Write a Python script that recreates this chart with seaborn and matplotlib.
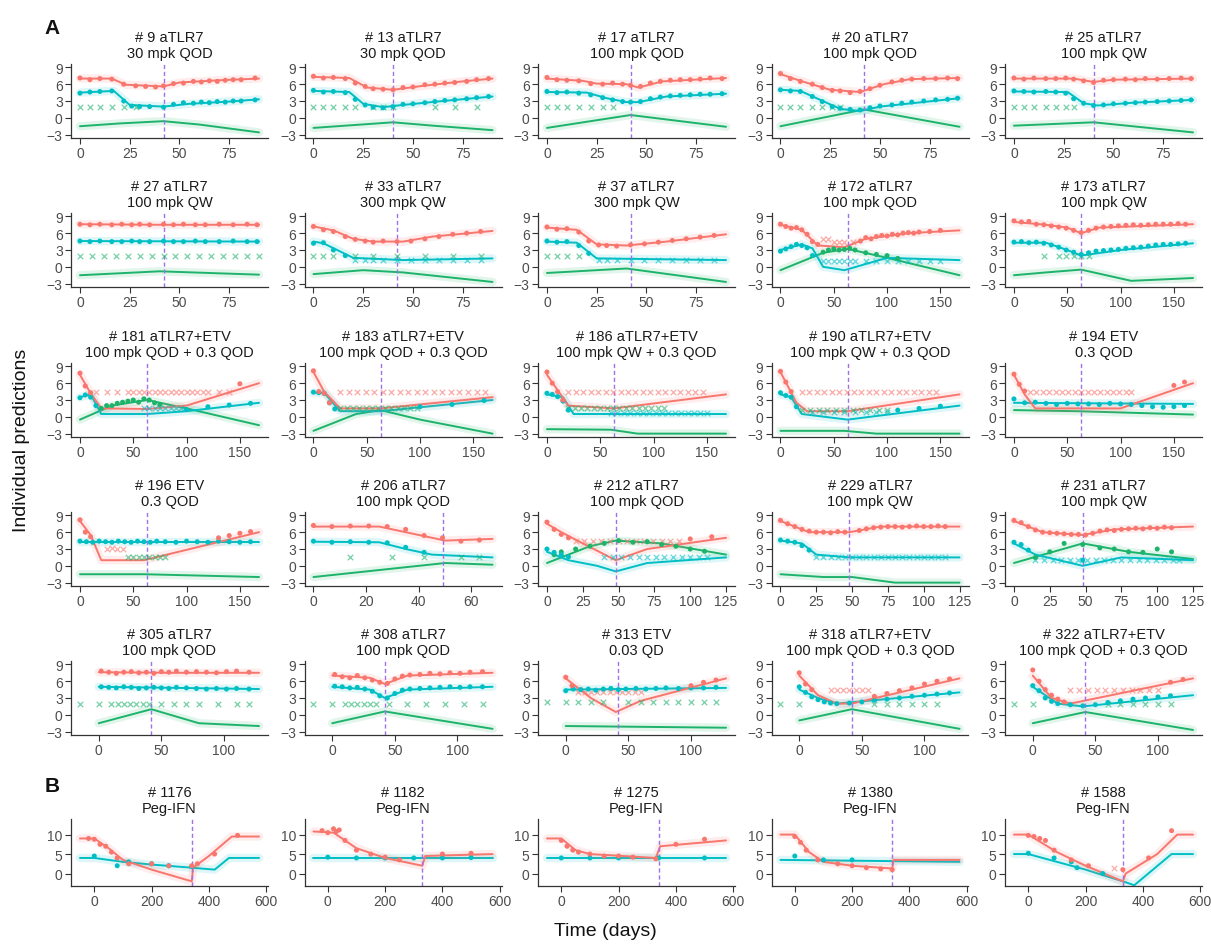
import matplotlib
matplotlib.use("Agg")
import matplotlib.pyplot as plt
import seaborn as sns
import pandas as pd
from matplotlib.ticker import MultipleLocator, FixedLocator

sns.set_theme(style="ticks")
plt.rcParams["font.family"] = ["Liberation Sans", "DejaVu Sans"]

RED = "#F8766D"
CYAN = "#00BFC4"
GREEN = "#1DB36B"
STOP = "#A070E8"

# ---------------- panel identities -----------------
subjects_a = ["9", "13", "17", "20", "25",
              "27", "33", "37", "172", "173",
              "181", "183", "186", "190", "194",
              "196", "206", "212", "229", "231",
              "305", "308", "313", "318", "322"]
regimen_a = ["aTLR7\n30 mpk QOD", "aTLR7\n30 mpk QOD", "aTLR7\n100 mpk QOD", "aTLR7\n100 mpk QOD", "aTLR7\n100 mpk QW",
             "aTLR7\n100 mpk QW", "aTLR7\n300 mpk QW", "aTLR7\n300 mpk QW", "aTLR7\n100 mpk QOD", "aTLR7\n100 mpk QW",
             "aTLR7+ETV\n100 mpk QOD + 0.3 QOD", "aTLR7+ETV\n100 mpk QOD + 0.3 QOD",
             "aTLR7+ETV\n100 mpk QW + 0.3 QOD", "aTLR7+ETV\n100 mpk QW + 0.3 QOD", "ETV\n0.3 QOD",
             "ETV\n0.3 QOD", "aTLR7\n100 mpk QOD", "aTLR7\n100 mpk QOD", "aTLR7\n100 mpk QW", "aTLR7\n100 mpk QW",
             "aTLR7\n100 mpk QOD", "aTLR7\n100 mpk QOD", "ETV\n0.03 QD",
             "aTLR7+ETV\n100 mpk QOD + 0.3 QOD", "aTLR7+ETV\n100 mpk QOD + 0.3 QOD"]
subjects_b = ["1176", "1182", "1275", "1380", "1588"]
regimen_b = ["Peg-IFN"] * 5

# end of treatment (days)
stop_day = {"9": 42, "13": 40, "17": 42, "20": 42, "25": 40, "27": 42, "33": 42, "37": 42,
            "172": 63, "173": 63, "181": 63, "183": 63, "186": 63, "190": 63, "194": 63,
            "196": 63, "206": 49, "212": 48, "229": 48, "231": 48,
            "305": 42, "308": 42, "313": 42, "318": 42, "322": 42,
            "1176": 340, "1182": 330, "1275": 340, "1380": 340, "1588": 330}

# x tick spacing per panel
tick_step = {s: 25 for s in ["9", "13", "17", "20", "25", "27", "33", "37", "212", "229", "231"]}
tick_step.update({s: 50 for s in ["172", "173", "181", "183", "186", "190", "194", "196",
                                  "305", "308", "313", "318", "322"]})
tick_step.update({"206": 20})
tick_step.update({s: 200 for s in subjects_b})

# ---------------- red series (viral DNA) -----------------
dna_fit = {
    "9": [(0, 7.0), (16, 7.0), (23, 5.9), (42, 5.6), (50, 6.3), (70, 6.7), (90, 7.0)],
    "13": [(0, 7.3), (18, 7.1), (27, 5.4), (40, 5.0), (55, 5.7), (75, 6.5), (90, 7.0)],
    "17": [(0, 7.0), (18, 6.6), (25, 6.1), (40, 6.0), (46, 5.4), (58, 6.5), (90, 7.1)],
    "20": [(0, 7.8), (10, 6.6), (25, 5.0), (40, 4.6), (52, 6.0), (65, 6.9), (90, 7.1)],
    "25": [(0, 7.0), (30, 7.0), (40, 6.4), (50, 6.8), (90, 7.0)],
    "27": [(0, 7.6), (40, 7.5), (90, 7.5)],
    "33": [(0, 7.2), (10, 6.5), (20, 5.0), (30, 4.5), (45, 4.5), (60, 5.4), (90, 6.4)],
    "37": [(0, 7.0), (15, 6.6), (25, 4.0), (40, 3.8), (60, 4.5), (90, 5.8)],
    "172": [(0, 7.5), (20, 6.6), (35, 3.8), (60, 3.5), (80, 5.0), (120, 6.0), (168, 6.5)],
    "173": [(0, 8.0), (30, 7.5), (50, 7.0), (63, 6.0), (80, 7.0), (168, 7.6)],
    "181": [(0, 7.5), (10, 4.2), (20, 1.5), (63, 1.4), (100, 2.0), (168, 6.0)],
    "183": [(0, 8.0), (10, 4.5), (25, 1.5), (63, 1.5), (168, 3.5)],
    "186": [(0, 7.5), (20, 2.0), (63, 1.5), (168, 4.0)],
    "190": [(0, 8.0), (15, 2.5), (25, 1.0), (63, 1.0), (168, 4.0)],
    "194": [(0, 7.5), (10, 4.0), (20, 1.5), (100, 1.5), (168, 6.0)],
    "196": [(0, 8.0), (10, 5.5), (20, 1.0), (60, 1.0), (168, 6.0)],
    "206": [(0, 7.0), (25, 7.0), (35, 6.0), (45, 5.0), (50, 4.5), (68, 4.8)],
    "212": [(0, 7.5), (10, 6.0), (25, 4.0), (48, 1.0), (70, 3.0), (125, 5.0)],
    "229": [(0, 8.0), (20, 6.0), (48, 6.0), (70, 7.0), (125, 7.0)],
    "231": [(0, 8.0), (20, 6.0), (48, 5.5), (70, 6.5), (125, 7.0)],
    "305": [(0, 7.6), (60, 7.5), (128, 7.5)],
    "308": [(0, 7.0), (30, 6.6), (42, 5.5), (60, 7.0), (128, 7.5)],
    "313": [(0, 6.5), (20, 3.0), (40, 0.5), (60, 2.5), (128, 6.5)],
    "318": [(0, 7.0), (15, 3.5), (30, 2.0), (42, 2.0), (128, 6.5)],
    "322": [(0, 7.0), (15, 3.0), (30, 2.0), (128, 6.5)],
    "1176": [(-50, 9.0), (0, 9.0), (50, 6.5), (100, 3.5), (200, 1.0), (340, -2.0), (345, 1.5),
             (400, 4.5), (480, 9.5), (575, 9.5)],
    "1182": [(-50, 10.8), (20, 10.5), (50, 9.0), (100, 6.5), (200, 4.0), (330, 2.0), (340, 4.5), (575, 5.0)],
    "1275": [(-50, 9.0), (0, 9.0), (50, 6.0), (100, 5.0), (330, 4.0), (345, 7.0), (575, 8.5)],
    "1380": [(-50, 10.0), (0, 10.0), (50, 5.5), (100, 3.0), (200, 2.0), (340, 1.3), (345, 3.5), (575, 3.5)],
    "1588": [(-50, 10.0), (0, 10.0), (100, 5.5), (200, 2.0), (330, -2.0), (340, 0.0), (450, 5.0),
             (520, 10.0), (575, 10.0)],
}
dna_obs = {
    "9": [(0, 7.1), (5, 6.8), (10, 7.0), (16, 6.9), (22, 6.0), (28, 5.7), (33, 5.6), (38, 5.5), (42, 5.7),
          (47, 6.1), (52, 6.2), (57, 6.5), (61, 6.4), (65, 6.6), (69, 6.5), (73, 6.7), (77, 6.8), (81, 6.8), (88, 7.1)],
    "13": [(0, 7.4), (5, 7.1), (10, 7.2), (16, 7.0), (21, 6.2), (26, 5.6), (30, 5.2), (35, 5.1), (40, 5.0),
           (45, 5.4), (50, 5.5), (56, 5.9), (61, 6.0), (66, 6.2), (71, 6.3), (77, 6.5), (82, 6.8), (88, 7.0)],
    "17": [(0, 7.2), (5, 6.8), (10, 6.7), (16, 6.6), (22, 6.1), (28, 6.0), (33, 6.2), (38, 6.0), (42, 5.8),
           (47, 5.6), (52, 6.2), (57, 6.5), (62, 6.7), (67, 6.8), (72, 6.8), (77, 6.9), (82, 7.1), (88, 7.0)],
    "20": [(0, 7.9), (5, 7.0), (10, 6.5), (16, 6.0), (21, 5.4), (26, 4.9), (30, 4.8), (35, 4.5), (40, 4.7),
           (45, 5.2), (50, 5.8), (56, 6.4), (61, 6.7), (66, 6.9), (72, 7.0), (78, 7.0), (84, 7.1), (89, 7.0)],
    "25": [(0, 7.1), (5, 6.9), (10, 7.1), (16, 7.0), (21, 7.0), (26, 7.1), (30, 6.9), (35, 6.6), (40, 6.3),
           (45, 6.7), (50, 6.8), (56, 6.9), (61, 6.8), (66, 7.0), (72, 6.9), (78, 7.0), (84, 7.1), (89, 7.0)],
    "27": [(0, 7.6), (5, 7.5), (10, 7.6), (16, 7.5), (21, 7.6), (26, 7.5), (30, 7.6), (35, 7.5), (42, 7.6),
           (47, 7.5), (52, 7.6), (58, 7.5), (63, 7.5), (70, 7.6), (77, 7.5), (84, 7.6), (89, 7.5)],
    "33": [(0, 7.2), (5, 6.6), (10, 6.3), (16, 5.4), (21, 4.9), (26, 4.6), (30, 4.4), (35, 4.6), (42, 4.5),
           (49, 4.6), (56, 5.0), (63, 5.4), (70, 5.8), (77, 6.0), (84, 6.3)],
    "37": [(0, 7.1), (5, 6.7), (10, 6.8), (16, 6.2), (21, 4.6), (26, 3.9), (30, 3.8), (35, 3.7), (42, 3.9),
           (49, 4.1), (56, 4.4), (63, 4.7), (70, 5.0), (77, 5.3), (84, 5.6)],
    "172": [(0, 7.6), (5, 7.2), (10, 6.9), (15, 7.0), (20, 6.6), (25, 5.8), (30, 4.5), (35, 4.0), (75, 4.6),
            (80, 5.2), (85, 5.0), (90, 5.4), (95, 5.6), (100, 5.5), (105, 5.8), (110, 5.7), (115, 6.0),
            (120, 6.1), (125, 6.0), (130, 6.2), (140, 6.3), (150, 6.5)],
    "173": [(0, 8.2), (7, 8.0), (14, 8.1), (21, 7.6), (28, 7.5), (35, 7.3), (42, 7.1), (49, 6.9), (56, 6.5),
            (63, 6.1), (70, 6.5), (77, 6.9), (84, 7.1), (91, 7.2), (98, 7.3), (105, 7.4), (112, 7.5), (119, 7.4),
            (126, 7.5), (133, 7.6), (140, 7.6), (147, 7.6), (154, 7.7), (161, 7.6)],
    "181": [(0, 7.8), (5, 5.5), (10, 4.3), (150, 5.9)],
    "183": [(0, 8.2), (5, 4.5), (10, 4.2), (15, 2.5)],
    "186": [(0, 8.0), (5, 6.0), (10, 4.5), (15, 3.0)],
    "190": [(0, 8.1), (5, 6.2), (10, 4.5)],
    "194": [(0, 7.6), (5, 5.8), (10, 4.6), (150, 5.6), (160, 6.2)],
    "196": [(0, 8.2), (5, 6.0), (10, 5.2), (130, 5.0), (140, 5.4), (150, 5.8), (160, 6.1)],
    "206": [(0, 7.2), (7, 7.0), (14, 7.1), (21, 7.1), (28, 7.0), (35, 6.5), (42, 5.4), (49, 5.0), (56, 4.4), (63, 4.6)],
    "212": [(0, 7.8), (5, 6.5), (10, 5.6), (15, 5.0), (100, 4.8), (115, 5.2)],
    "229": [(0, 8.1), (5, 7.5), (10, 7.0), (15, 6.5), (20, 6.2), (25, 6.0), (30, 6.0), (35, 5.9), (40, 6.1),
            (45, 6.0), (55, 6.3), (60, 6.6), (65, 6.8), (70, 6.9), (75, 7.0), (80, 7.0), (85, 6.9), (90, 7.0),
            (95, 7.1), (100, 7.0), (105, 7.0), (110, 7.1), (115, 7.0)],
    "231": [(0, 8.1), (5, 7.7), (10, 7.0), (15, 6.4), (20, 6.0), (25, 5.9), (30, 5.8), (35, 5.7), (40, 5.6),
            (45, 5.6), (50, 5.5), (55, 5.8), (60, 6.2), (65, 6.4), (70, 6.3), (75, 6.5), (80, 6.6), (85, 6.7),
            (90, 6.6), (95, 6.8), (100, 6.7), (105, 6.9), (110, 6.8)],
    "305": [(2, 7.8), (8, 7.6), (14, 7.4), (20, 7.6), (26, 7.7), (32, 7.5), (38, 7.6), (44, 7.4), (50, 7.7),
            (56, 7.6), (62, 7.8), (70, 7.6), (78, 7.7), (86, 7.6), (94, 7.5), (102, 7.7), (110, 7.8), (120, 7.6)],
    "308": [(2, 7.2), (8, 6.8), (14, 6.6), (20, 7.0), (26, 6.6), (32, 6.2), (38, 5.8), (44, 5.6), (50, 6.4),
            (56, 6.9), (62, 7.1), (70, 7.2), (78, 7.4), (86, 7.3), (94, 7.5), (102, 7.4), (110, 7.6), (120, 7.7)],
    "313": [(0, 6.7), (5, 5.2), (100, 5.2), (110, 5.8), (120, 6.2)],
    "318": [(0, 7.5), (5, 5.5), (10, 4.5), (60, 3.3), (70, 3.8), (80, 4.3), (90, 4.8), (100, 5.5), (110, 6.0), (120, 6.4)],
    "322": [(0, 8.0), (5, 6.0), (10, 4.5), (15, 3.5), (20, 2.8), (25, 2.3), (110, 5.8), (120, 6.3)],
    "1176": [(-20, 9.0), (0, 8.8), (20, 7.5), (40, 7.0), (60, 5.5), (80, 4.0), (120, 2.5), (200, 2.5),
             (260, 2.0), (340, 2.0), (360, 2.5), (420, 5.0), (500, 9.8)],
    "1182": [(-20, 11.0), (0, 10.5), (20, 11.5), (30, 10.8), (40, 11.2), (60, 8.5), (100, 6.0), (150, 5.0),
             (200, 4.2), (250, 3.5), (400, 5.0), (500, 5.2)],
    "1275": [(0, 8.5), (20, 7.0), (40, 6.0), (60, 5.5), (100, 5.0), (150, 4.5), (200, 4.5), (250, 4.2),
             (330, 3.8), (400, 7.5), (500, 8.8)],
    "1380": [(0, 9.5), (20, 8.0), (40, 6.0), (80, 3.5), (150, 2.5), (200, 2.0), (250, 1.5), (300, 1.2), (340, 1.0)],
    "1588": [(0, 9.8), (20, 9.5), (40, 9.0), (60, 8.5), (90, 6.0), (150, 3.5), (210, 2.0), (330, 1.0),
             (420, 4.0), (500, 11.0)],
}
dna_blq = {
    "172": [(40, 5.0), (45, 5.0), (50, 4.5), (55, 4.5), (60, 4.5), (68, 4.5)],
    "181": [(t, 4.5) for t in (15, 25, 35, 45, 50, 55, 60, 65, 70, 75, 80, 85, 90, 95, 100, 105, 110, 115, 120, 130, 140)],
    "183": [(t, 4.5) for t in (25, 33, 41, 49, 57, 65, 73, 81, 89, 97, 105, 113, 121, 129, 137, 145, 153, 161)],
    "186": [(t, 4.5) for t in (20, 27, 34, 41, 48, 55, 62, 69, 76, 83, 90, 97, 104, 111, 118, 125, 132, 139, 146)],
    "190": [(t, 4.5) for t in (20, 27, 34, 41, 48, 55, 62, 69, 76, 83, 90, 97, 104, 111, 118, 125, 132, 139, 146)],
    "194": [(t, 4.5) for t in (15, 21, 27, 33, 39, 45, 51, 57, 63, 69, 75, 81, 87, 93, 99, 105, 110)],
    "196": [(25, 3.0), (30, 3.2), (35, 3.0), (40, 3.0)],
    "212": [(t, 4.5) for t in (20, 26, 32, 38, 44, 50, 56, 62, 68, 74, 80, 86, 92)],
    "313": [(t, 4.0) for t in (10, 15, 20, 25, 30, 35, 40, 45, 50, 55, 60)],
    "318": [(t, 4.5) for t in (25, 30, 35, 40, 45, 50, 55)],
    "322": [(t, 4.5) for t in (30, 37, 44, 51, 58, 65, 72, 79, 86, 93, 100)],
    "1588": [(300, 1.5)],
}

# ---------------- cyan series (surface antigen) -----------------
sag_fit = {
    "9": [(0, 4.5), (17, 4.8), (25, 2.3), (42, 2.0), (55, 2.5), (75, 2.9), (90, 3.3)],
    "13": [(0, 4.8), (18, 4.6), (25, 2.5), (35, 1.9), (45, 2.3), (65, 3.0), (90, 3.8)],
    "17": [(0, 4.6), (20, 4.5), (30, 3.5), (40, 2.8), (46, 2.8), (60, 3.8), (90, 4.3)],
    "20": [(0, 5.0), (10, 4.8), (20, 3.2), (30, 1.6), (40, 1.2), (50, 2.0), (90, 3.5)],
    "25": [(0, 4.7), (27, 4.6), (35, 2.6), (42, 2.2), (60, 2.7), (90, 3.2)],
    "27": [(0, 4.6), (90, 4.5)],
    "33": [(0, 4.5), (5, 4.2), (20, 1.6), (45, 1.2), (90, 1.5)],
    "37": [(0, 4.5), (15, 4.3), (25, 1.5), (90, 1.2)],
    "172": [(0, 3.0), (20, 4.0), (30, 3.3), (40, 0.0), (60, -0.6), (100, 1.6), (168, 1.2)],
    "173": [(0, 4.3), (30, 4.3), (50, 3.0), (63, 2.0), (100, 3.0), (168, 4.2)],
    "181": [(0, 3.5), (10, 4.0), (20, 0.5), (63, 0.5), (100, 1.0), (168, 2.5)],
    "183": [(0, 4.3), (10, 4.3), (25, 1.0), (63, 1.0), (168, 3.0)],
    "186": [(0, 4.0), (15, 3.5), (25, 0.5), (168, 0.5)],
    "190": [(0, 4.0), (10, 3.5), (20, 0.5), (63, -0.5), (168, 2.0)],
    "194": [(0, 2.5), (168, 2.3)],
    "196": [(0, 4.3), (168, 4.3)],
    "206": [(0, 4.3), (25, 4.2), (35, 3.0), (45, 2.0), (68, 1.5)],
    "212": [(0, 2.5), (15, 1.0), (35, 0.0), (48, -1.0), (70, 0.5), (125, 1.5)],
    "229": [(0, 4.5), (15, 4.0), (25, 2.0), (48, 1.5), (125, 1.5)],
    "231": [(0, 4.0), (15, 2.0), (48, 0.0), (75, 1.5), (125, 1.0)],
    "305": [(0, 5.0), (128, 4.6)],
    "308": [(0, 5.0), (30, 4.5), (42, 3.0), (60, 4.5), (128, 5.0)],
    "313": [(0, 4.5), (128, 4.8)],
    "318": [(0, 4.5), (15, 3.0), (30, 2.0), (128, 4.0)],
    "322": [(0, 5.0), (20, 2.0), (40, 1.5), (128, 3.5)],
    "1176": [(-50, 4.0), (0, 4.0), (100, 3.0), (200, 2.3), (340, 1.5), (420, 1.0), (470, 4.0), (575, 4.0)],
    "1182": [(-50, 4.0), (575, 4.0)],
    "1275": [(-50, 4.0), (575, 4.0)],
    "1380": [(-50, 3.5), (575, 3.0)],
    "1588": [(-50, 5.0), (0, 5.0), (200, 1.0), (330, -2.0), (370, -3.0), (500, 5.0), (575, 5.0)],
}
sag_obs = {
    "9": [(0, 4.4), (5, 4.6), (10, 4.7), (16, 4.8), (22, 3.0), (26, 2.1), (30, 2.0), (35, 2.0), (42, 1.9),
          (47, 2.4), (52, 2.7), (57, 2.6), (61, 2.8), (65, 2.7), (69, 2.9), (73, 2.8), (77, 3.0), (81, 3.0), (88, 3.2)],
    "13": [(0, 4.9), (5, 4.6), (10, 4.7), (16, 4.5), (21, 3.3), (26, 2.3), (30, 1.9), (35, 1.8), (40, 2.0),
           (45, 2.4), (50, 2.5), (56, 2.7), (61, 2.9), (66, 3.1), (71, 3.2), (77, 3.4), (82, 3.6), (88, 3.8)],
    "17": [(0, 4.7), (5, 4.5), (10, 4.6), (16, 4.4), (22, 4.1), (28, 3.6), (33, 3.2), (38, 2.9), (42, 2.8),
           (47, 2.9), (52, 3.4), (57, 3.7), (62, 3.9), (67, 4.0), (72, 4.1), (77, 4.2), (82, 4.2), (88, 4.3)],
    "20": [(0, 5.0), (5, 4.8), (10, 4.7), (16, 3.8), (21, 2.9), (26, 2.0), (30, 1.7), (35, 1.5), (40, 1.4),
           (45, 1.8), (50, 2.1), (56, 2.3), (61, 2.6), (66, 2.8), (72, 3.0), (78, 3.2), (84, 3.3), (89, 3.5)],
    "25": [(0, 4.8), (5, 4.7), (10, 4.6), (16, 4.7), (21, 4.6), (26, 4.4), (30, 3.4), (35, 2.6), (40, 2.2),
           (45, 2.3), (50, 2.5), (56, 2.6), (61, 2.7), (66, 2.8), (72, 2.9), (78, 3.0), (84, 3.1), (89, 3.2)],
    "27": [(0, 4.6), (5, 4.5), (10, 4.6), (16, 4.5), (21, 4.5), (26, 4.6), (30, 4.5), (35, 4.5), (42, 4.6),
           (47, 4.5), (52, 4.5), (58, 4.6), (63, 4.5), (70, 4.5), (77, 4.6), (84, 4.5), (89, 4.5)],
    "33": [(0, 4.2), (5, 4.3), (10, 3.0), (16, 2.0)],
    "37": [(0, 4.6), (5, 4.4), (10, 4.5), (16, 3.8), (21, 2.4)],
    "172": [(0, 2.8), (5, 3.2), (10, 3.6), (15, 4.0), (20, 3.8), (25, 3.4), (30, 2.0)],
    "173": [(0, 4.4), (7, 4.5), (14, 4.3), (21, 4.4), (28, 4.2), (35, 3.9), (42, 3.5), (49, 3.0), (56, 2.6),
            (63, 2.2), (70, 2.5), (77, 2.8), (84, 2.9), (91, 3.0), (98, 3.1), (105, 3.3), (112, 3.4), (119, 3.5),
            (126, 3.7), (133, 3.9), (140, 4.0), (147, 4.0), (154, 4.1), (161, 4.2)],
    "181": [(0, 3.4), (5, 3.9), (10, 3.5), (15, 2.0), (100, 1.3), (120, 1.8), (140, 2.1), (160, 2.4)],
    "183": [(0, 4.4), (5, 4.3), (10, 4.2), (15, 2.5), (20, 1.4), (100, 1.8), (130, 2.2), (160, 2.9)],
    "186": [(0, 4.2), (5, 4.0), (10, 3.6), (15, 2.8), (20, 1.2)],
    "190": [(0, 4.3), (5, 3.8), (10, 3.5), (15, 1.8), (110, 1.2), (130, 1.5), (150, 1.9)],
    "194": [(0, 3.2), (10, 2.5), (20, 2.6), (30, 2.4), (40, 2.2), (50, 2.4), (60, 2.3), (70, 2.3), (80, 2.2),
            (90, 2.4), (100, 2.3), (110, 2.2), (120, 2.0), (130, 1.8), (140, 1.7), (150, 1.8), (160, 2.0)],
    "196": [(0, 4.4), (6, 4.3), (12, 4.2), (18, 4.4), (24, 4.3), (30, 4.2), (36, 4.4), (42, 4.3), (48, 4.2),
            (54, 4.4), (60, 4.3), (66, 4.2), (72, 4.4), (80, 4.3), (90, 4.2), (100, 4.4), (110, 4.3),
            (120, 4.2), (130, 4.4), (140, 4.3), (150, 4.2), (160, 4.3)],
    "206": [(0, 4.4), (7, 4.2), (14, 4.3), (21, 4.2), (28, 4.1), (35, 3.3), (42, 2.4)],
    "212": [(0, 3.0), (5, 2.4), (10, 2.0), (15, 1.6)],
    "229": [(0, 4.6), (5, 4.4), (10, 4.2), (15, 3.6), (20, 2.8)],
    "231": [(0, 4.2), (5, 3.8), (10, 2.8), (48, 1.0)],
    "305": [(2, 5.0), (8, 4.9), (14, 4.8), (20, 5.0), (26, 4.9), (32, 4.7), (38, 4.8), (44, 4.9), (50, 4.8),
            (56, 4.7), (62, 4.9), (70, 4.8), (78, 4.7), (86, 4.6), (94, 4.7), (102, 4.6), (110, 4.7), (120, 4.6)],
    "308": [(2, 5.1), (8, 5.0), (14, 4.8), (20, 4.9), (26, 4.6), (32, 4.2), (38, 3.4), (44, 3.0), (50, 3.8),
            (56, 4.4), (62, 4.6), (70, 4.7), (78, 4.8), (86, 4.9), (94, 5.0), (102, 4.9), (110, 5.0), (120, 5.0)],
    "313": [(0, 4.3), (6, 4.6), (12, 4.5), (18, 4.6), (24, 4.4), (30, 4.6), (36, 4.7), (42, 4.5), (48, 4.6),
            (56, 4.7), (64, 4.6), (72, 4.7), (80, 4.8), (90, 4.7), (100, 4.8), (110, 4.8), (120, 4.9)],
    "318": [(0, 5.0), (5, 4.0), (10, 3.2), (15, 2.7), (20, 2.3), (25, 2.1), (30, 2.0), (40, 2.1), (50, 2.3),
            (60, 2.6), (70, 2.8), (80, 3.0), (90, 3.3), (100, 3.5), (110, 3.7), (120, 3.9)],
    "322": [(0, 5.2), (5, 4.3), (10, 3.0), (15, 2.4), (20, 2.0), (30, 1.8), (40, 1.6), (50, 1.8), (60, 2.2),
            (70, 2.5), (80, 2.8), (90, 3.0), (100, 3.2), (110, 3.4)],
    "1176": [(0, 4.5), (80, 2.0), (120, 3.0), (200, 2.5), (260, 2.0), (340, 1.8)],
    "1182": [(0, 4.2), (100, 4.0), (200, 4.0), (300, 4.0), (400, 4.0), (500, 4.1)],
    "1275": [(0, 4.0), (100, 4.0), (200, 4.0), (340, 4.0), (500, 4.0)],
    "1380": [(0, 4.5), (100, 3.5), (200, 3.5)],
    "1588": [(0, 5.2), (90, 4.0), (150, 3.0), (170, 1.5), (260, 0.0)],
}
sag_blq = {
    "33": [(t, 1.3) for t in (21, 26, 30, 35, 42, 49, 56, 63, 70, 77, 84)],
    "37": [(t, 1.2) for t in (26, 30, 35, 42, 49, 56, 63, 70, 77, 84)],
    "172": [(t, 1.0) for t in (40, 45, 50, 55, 60, 65, 70, 80, 90, 100, 110, 120, 130, 140, 150)],
    "181": [(t, 1.5) for t in (60, 65, 70, 75, 80, 85, 90, 95)],
    "186": [(t, 0.7) for t in (60, 66, 72, 78, 84, 90, 96, 102, 108, 114, 120, 126, 132, 138, 144, 150)],
    "190": [(t, 0.8) for t in (30, 40, 50, 60, 70, 80, 90, 100)],
    "212": [(t, 1.5) for t in (40, 46, 52, 58, 64, 70, 76, 82, 88, 94, 100, 106, 112)],
    "229": [(t, 1.5) for t in (25, 30, 35, 40, 45, 50, 55, 60, 65, 70, 75, 80, 85, 90, 95, 100, 105, 110, 115)],
    "231": [(t, 1.0) for t in (15, 21, 27, 33, 39, 45, 51, 57, 63, 69, 75, 81, 87, 93, 99, 105, 111, 115)],
}

# ---------------- green series -----------------
alt_fit = {
    "9": [(0, -1.5), (20, -1.0), (42, -0.6), (60, -1.2), (90, -2.6)],
    "13": [(0, -1.8), (40, -0.8), (60, -1.4), (90, -2.2)],
    "17": [(0, -1.8), (42, 0.5), (90, -1.6)],
    "20": [(0, -1.5), (42, 1.5), (90, -1.6)],
    "25": [(0, -1.4), (40, -0.8), (90, -2.6)],
    "27": [(0, -1.5), (40, -0.8), (90, -1.4)],
    "33": [(0, -1.3), (25, -0.6), (45, -1.0), (90, -2.7)],
    "37": [(0, -1.1), (40, -0.3), (90, -2.7)],
    "172": [(0, -0.6), (40, 2.5), (63, 3.2), (100, 1.6), (168, -1.5)],
    "173": [(0, -1.5), (30, -1.0), (63, -0.5), (110, -2.5), (168, -2.0)],
    "181": [(0, -0.5), (30, 2.0), (63, 3.0), (100, 1.5), (168, -1.5)],
    "183": [(0, -2.5), (40, 0.5), (63, 1.2), (100, -0.5), (168, -3.0)],
    "186": [(0, -2.2), (60, -2.3), (85, -3.0), (168, -3.0)],
    "190": [(0, -2.5), (60, -2.5), (90, -3.0), (168, -3.0)],
    "194": [(0, 1.2), (60, 1.0), (168, 0.4)],
    "196": [(0, -1.5), (60, -1.5), (168, -2.0)],
    "206": [(0, -2.0), (50, 0.5), (68, 0.2)],
    "212": [(0, 0.5), (30, 3.5), (48, 4.5), (80, 4.0), (125, 2.0)],
    "229": [(0, -1.5), (30, -2.0), (50, -2.0), (80, -3.0), (125, -3.0)],
    "231": [(0, 0.5), (48, 4.0), (80, 2.5), (125, 1.2)],
    "305": [(0, -1.5), (42, 1.0), (80, -1.5), (128, -2.0)],
    "308": [(0, -1.5), (42, 0.6), (128, -2.5)],
    "313": [(0, -2.0), (128, -2.3)],
    "318": [(0, -1.0), (42, 1.0), (128, -2.5)],
    "322": [(0, -1.5), (42, 0.5), (128, -2.7)],
}
alt_obs = {
    "172": [(40, 2.6), (45, 3.0), (50, 3.2), (55, 3.0), (60, 3.1), (65, 3.3), (70, 3.0), (80, 2.5), (90, 2.2),
            (100, 2.0), (110, 1.5)],
    "181": [(20, 1.5), (25, 2.0), (30, 2.0), (35, 2.4), (40, 2.6), (45, 2.8), (50, 3.0), (55, 2.6), (60, 3.2),
            (65, 3.0), (70, 2.5), (75, 2.2)],
    "212": [(5, 2.0), (10, 2.5), (20, 3.0), (30, 3.5), (40, 4.0), (50, 4.5), (60, 4.2), (70, 4.3), (80, 3.8),
            (90, 3.5), (100, 3.0), (110, 2.6)],
    "231": [(15, 1.5), (25, 2.5), (35, 4.0), (48, 3.8), (60, 3.2), (70, 3.0), (80, 2.5), (90, 2.4), (100, 3.0),
            (110, 2.5)],
}
alt_blq = {
    "9": [(t, 2.0) for t in (0, 5, 10, 16, 22, 28)],
    "13": [(t, 2.0) for t in (0, 5, 10, 16, 21, 30, 35, 40, 61, 71, 82)],
    "17": [(t, 2.0) for t in (0, 5, 10, 16, 22, 28, 33)],
    "20": [(t, 2.0) for t in (0, 5, 10, 16, 21, 26, 30)],
    "25": [(t, 2.0) for t in (0, 5, 10, 16, 21, 26, 30)],
    "27": [(t, 2.0) for t in (0, 6, 12, 18, 24, 30, 36, 42, 48, 54, 60, 66, 72, 78, 84, 90)],
    "33": [(t, 2.0) for t in (0, 5, 10, 21, 30, 42, 56, 70, 84)],
    "37": [(t, 2.0) for t in (0, 5, 10, 16)],
    "173": [(28, 2.0), (42, 2.0), (49, 2.0), (56, 2.0), (63, 2.0), (70, 2.0)],
    "183": [(t, 1.5) for t in (25, 31, 37, 43, 49, 55, 61, 67, 73, 79, 85, 91, 97)],
    "186": [(t, 1.5) for t in (20, 26, 32, 38, 44, 50, 56, 62, 68, 74, 80, 86, 92, 98, 104, 110)],
    "190": [(t, 1.2) for t in (20, 28, 36, 44, 52, 60, 68, 76, 84, 92, 100)],
    "196": [(t, 1.5) for t in (45, 50, 55, 60, 65, 70, 75, 80)],
    "206": [(14, 1.5), (30, 1.5), (42, 1.5), (56, 1.5), (63, 1.5)],
    "305": [(t, 2.0) for t in (-15, 0, 10, 15, 20, 25, 30, 35, 40, 50, 60, 70, 80, 95, 110, 120)],
    "308": [(t, 2.0) for t in (-15, 0, 10, 15, 20, 25, 30, 35, 45, 60, 75, 90, 105, 120)],
    "313": [(t, 2.2) for t in (-15, 0, 10, 20, 30, 50, 60, 70, 80, 90, 100, 110, 120)],
    "318": [(t, 2.0) for t in (-15, 0, 60, 70, 80, 90, 100, 110)],
    "322": [(t, 2.0) for t in (-15, 0, 60, 70, 80, 90, 100, 110)],
}

SERIES = [(alt_fit, alt_obs, alt_blq, GREEN),
          (sag_fit, sag_obs, sag_blq, CYAN),
          (dna_fit, dna_obs, dna_blq, RED)]


def frame(points):
    return pd.DataFrame(points, columns=["t", "y"])


def draw_panel(ax, sid, title, panel_b=False):
    for fit, obs, blq, col in SERIES:
        f = frame(fit.get(sid, []))
        if len(f):
            sns.lineplot(data=f, x="t", y="y", ax=ax, color=col, lw=6, alpha=0.13,
                         sort=False, estimator=None, legend=False)
            sns.lineplot(data=f, x="t", y="y", ax=ax, color=col, lw=1.4,
                         sort=False, estimator=None, legend=False)
        o = frame(obs.get(sid, []))
        if len(o):
            sns.scatterplot(data=o, x="t", y="y", ax=ax, color=col, s=13,
                            edgecolor="none", legend=False, zorder=4)
        b = frame(blq.get(sid, []))
        if len(b):
            sns.scatterplot(data=b, x="t", y="y", ax=ax, color=col, s=16, marker="x",
                            linewidth=0.9, alpha=0.6, legend=False, zorder=3)
    ax.axvline(stop_day[sid], color=STOP, ls=(0, (3, 2)), lw=1.0, zorder=2)
    ax.margins(x=0.05, y=0.05)
    if panel_b:
        ax.set_ylim(-3.2, 14.0)
        ax.yaxis.set_major_locator(FixedLocator([0, 5, 10]))
    else:
        ax.set_ylim(-3.6, 9.6)
        ax.yaxis.set_major_locator(FixedLocator([-3, 0, 3, 6, 9]))
    ax.xaxis.set_major_locator(MultipleLocator(tick_step[sid]))
    ax.set_xlabel("")
    ax.set_ylabel("")
    ax.set_title(title, fontsize=10.5, color="#1a1a1a", linespacing=1.15, pad=5)
    for side in ("top", "right"):
        ax.spines[side].set_visible(False)
    for side in ("left", "bottom"):
        ax.spines[side].set_color("#333333")
        ax.spines[side].set_linewidth(0.9)
    ax.tick_params(axis="both", labelsize=10, colors="#333333", labelcolor="#4d4d4d",
                   length=4, width=0.8, pad=2)


W, H = 1211, 945
fig = plt.figure(figsize=(W / 100, H / 100), dpi=100)


def px_axes(left, top, width, height):
    return fig.add_axes([left / W, 1 - (top + height) / H, width / W, height / H])


col_left = [71 + 233.5 * i for i in range(5)]
row_top = [65, 214, 364, 513, 662]

for k, sid in enumerate(subjects_a):
    r, c = divmod(k, 5)
    ax = px_axes(col_left[c], row_top[r], 197, 74)
    draw_panel(ax, sid, f"# {sid} {regimen_a[k]}")

for c, sid in enumerate(subjects_b):
    ax = px_axes(col_left[c], 820, 197, 67)
    draw_panel(ax, sid, f"# {sid}\n{regimen_b[c]}", panel_b=True)

fig.text(52 / W, 1 - 28 / H, "A", fontsize=15, fontweight="bold", ha="center", va="center", color="#111111")
fig.text(52 / W, 1 - 787 / H, "B", fontsize=15, fontweight="bold", ha="center", va="center", color="#111111")
fig.text(22 / W, 1 - 440 / H, "Individual predictions", rotation=90, fontsize=14,
         ha="center", va="center", color="#111111")
fig.text(605 / W, 1 - 932 / H, "Time (days)", fontsize=14, ha="center", va="center", color="#111111")

fig.savefig("out.png", dpi=100, facecolor="white")
